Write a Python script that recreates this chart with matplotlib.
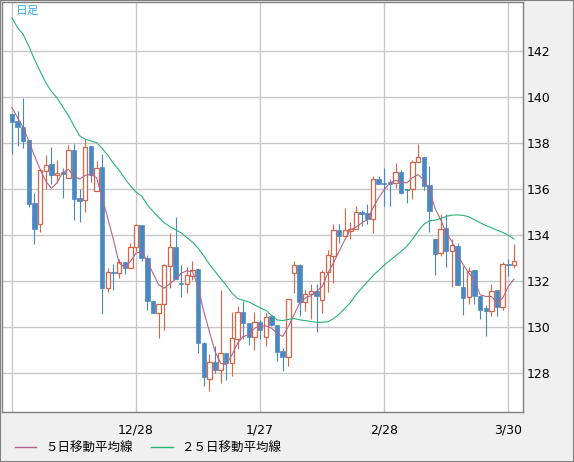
import matplotlib
matplotlib.use("Agg")
import matplotlib.pyplot as plt
from matplotlib.patches import Rectangle
from matplotlib.lines import Line2D

# daily OHLC, one entry per trading day
opens = [139.23, 138.94, 138.70, 138.10, 135.36, 134.48, 136.78, 137.06, 136.59, 136.71,
         136.45, 137.67, 135.58, 135.49, 137.86, 135.90, 136.94, 131.70, 132.39, 132.35,
         132.83, 132.57, 133.48, 134.43, 133.01, 131.14, 130.61, 131.00, 132.64, 133.45,
         131.90, 131.87, 132.20, 132.49, 129.30, 127.75, 128.48, 128.12, 128.87, 128.43,
         129.45, 130.65, 130.17, 129.57, 130.22, 129.57, 130.46, 130.10, 128.93, 128.70,
         132.35, 132.67, 131.07, 131.43, 131.55, 131.16, 132.38, 133.07, 134.19, 133.94,
         134.17, 134.23, 135.00, 134.93, 134.70, 136.41, 136.25, 136.24, 136.26, 136.74,
         136.00, 135.97, 137.17, 137.39, 136.14, 133.80, 133.19, 134.30, 133.30, 133.51,
         131.74, 131.28, 132.45, 131.36, 130.81, 130.67, 131.59, 130.84, 132.74, 132.68]
highs = [139.30, 139.38, 139.93, 138.10, 135.83, 136.87, 137.45, 137.83, 137.23, 136.88,
         137.90, 137.96, 135.97, 138.17, 137.86, 137.20, 137.49, 132.57, 132.71, 132.96,
         132.83, 133.65, 134.48, 134.43, 133.12, 131.14, 131.01, 132.71, 134.06, 134.75,
         132.67, 132.61, 132.88, 132.49, 129.36, 128.84, 129.16, 131.58, 128.87, 130.64,
         130.90, 131.12, 130.17, 130.64, 130.29, 130.61, 130.46, 130.10, 129.10, 131.19,
         132.88, 132.71, 131.62, 131.85, 131.84, 132.45, 133.32, 134.45, 134.48, 135.14,
         134.55, 135.25, 135.07, 135.35, 136.55, 136.55, 136.91, 136.41, 137.10, 136.81,
         136.00, 137.25, 137.93, 137.39, 136.99, 133.80, 134.88, 134.88, 133.80, 133.62,
         132.65, 132.61, 132.45, 131.36, 130.96, 131.86, 131.59, 132.82, 132.96, 133.61]
lows = [137.52, 137.86, 137.78, 135.20, 133.58, 134.13, 135.97, 136.19, 136.26, 135.61,
        136.45, 134.62, 134.55, 134.99, 136.29, 135.90, 130.54, 131.52, 131.62, 132.12,
        132.28, 132.57, 133.28, 132.88, 130.75, 130.61, 129.51, 129.88, 131.68, 132.06,
        131.30, 131.45, 132.03, 128.87, 127.42, 127.20, 128.00, 127.57, 127.71, 127.88,
        129.04, 129.45, 129.23, 129.01, 129.48, 129.16, 130.03, 128.51, 128.06, 128.29,
        131.45, 130.46, 130.68, 130.35, 129.77, 130.61, 131.51, 131.91, 133.65, 133.94,
        133.80, 134.23, 134.38, 134.48, 134.06, 136.19, 135.25, 135.25, 136.04, 135.75,
        135.36, 135.57, 137.17, 135.94, 134.12, 132.25, 133.09, 132.61, 131.72, 131.80,
        130.52, 131.01, 130.99, 130.36, 129.59, 130.45, 130.45, 130.74, 132.22, 132.57]
closes = [138.90, 138.68, 138.07, 135.32, 134.25, 136.80, 137.04, 136.59, 136.70, 136.64,
          137.67, 135.54, 135.46, 137.81, 136.59, 136.91, 131.67, 132.39, 132.33, 132.83,
          132.54, 133.48, 134.43, 133.00, 131.12, 130.61, 131.01, 132.67, 133.45, 132.06,
          131.86, 132.23, 132.48, 129.30, 127.83, 128.48, 128.12, 128.87, 128.41, 129.52,
          130.65, 130.17, 129.57, 130.20, 129.86, 130.43, 130.07, 128.90, 128.68, 131.19,
          132.67, 131.07, 131.43, 131.55, 131.36, 132.39, 133.10, 134.19, 133.94, 134.19,
          134.26, 135.00, 134.90, 134.67, 136.43, 136.19, 136.20, 136.22, 136.74, 135.83,
          135.94, 137.17, 137.39, 136.12, 135.03, 133.16, 134.23, 133.28, 133.54, 131.82,
          131.25, 132.42, 131.33, 130.75, 130.70, 131.57, 130.84, 132.74, 132.68, 132.86]

ma5 = [139.52, 139.09, 138.65, 138.07, 137.42, 136.84, 136.33, 136.01, 136.26, 136.70,
       136.84, 136.55, 136.41, 136.58, 136.62, 136.48, 135.61, 134.70, 133.78, 132.77,
       132.60, 132.84, 133.20, 133.27, 132.84, 132.33, 131.83, 131.68, 131.87, 132.07,
       132.33, 132.43, 132.40, 131.75, 130.67, 129.80, 128.93, 128.42, 128.35, 128.78,
       129.29, 129.58, 129.65, 129.94, 130.04, 130.04, 129.94, 129.72, 129.58, 130.01,
       130.52, 131.03, 131.25, 131.35, 131.54, 131.75, 132.33, 132.77, 133.27, 133.78,
       134.22, 134.33, 134.51, 134.65, 135.16, 135.60, 135.96, 136.25, 136.36, 136.28,
       136.25, 136.48, 136.61, 136.39, 135.96, 135.16, 134.65, 134.07, 133.71, 133.13,
       132.70, 132.33, 132.04, 131.39, 131.32, 131.32, 131.06, 131.25, 131.75, 132.07]
ma25 = [143.42, 142.99, 142.70, 142.19, 141.61, 141.10, 140.60, 140.23, 139.94, 139.56,
        139.18, 138.72, 138.30, 138.15, 138.07, 138.00, 137.75, 137.45, 137.10, 136.80,
        136.45, 136.12, 135.85, 135.68, 135.30, 135.02, 134.75, 134.52, 134.35, 134.22,
        134.08, 133.88, 133.68, 133.42, 133.08, 132.72, 132.41, 132.10, 131.80, 131.47,
        131.23, 131.15, 131.08, 130.95, 130.83, 130.72, 130.50, 130.30, 130.27, 130.32,
        130.36, 130.30, 130.27, 130.23, 130.20, 130.20, 130.22, 130.35, 130.55, 130.80,
        131.05, 131.40, 131.68, 131.95, 132.22, 132.45, 132.68, 132.88, 133.08, 133.27,
        133.50, 133.80, 134.15, 134.45, 134.60, 134.63, 134.70, 134.80, 134.85, 134.86,
        134.84, 134.78, 134.65, 134.52, 134.40, 134.30, 134.20, 134.10, 133.98, 133.82]

tick_pos = [0, 22, 44, 66, 88]
tick_labels = ["", "12/28", "1/27", "2/28", "3/30"]
y_ticks = [128, 130, 132, 134, 136, 138, 140, 142]

UP = "#dc6446"
DOWN = "#4a88c2"
MA5_C = "#b4648a"
MA25_C = "#28b478"
GRID = "#c8c8c8"
JP = ["Noto Sans CJK JP", "DejaVu Sans"]

W, H = 574, 462
fig = plt.figure(figsize=(W / 100, H / 100), dpi=100)
fig.patch.set_facecolor("#f0f0f0")
ax = fig.add_axes([1.5 / W, 1 - 412 / H, 521.5 / W, 410.5 / H])
ax.set_facecolor("white")

n = len(closes)
xs = list(range(n))
bw = 0.78
for i in xs:
    o, h, l, c = opens[i], highs[i], lows[i], closes[i]
    up = c > o
    col = UP if up else DOWN
    ax.vlines(i, l, h, color=col, lw=0.8, zorder=2)
    bot = min(o, c)
    hgt = max(abs(c - o), 0.05)
    if up:
        ax.bar(i, hgt, bottom=bot, width=bw, facecolor="white", edgecolor=col,
               linewidth=0.9, zorder=3)
    else:
        ax.bar(i, hgt, bottom=bot, width=bw, facecolor=col, edgecolor=col,
               linewidth=0.5, zorder=3)

ax.plot(xs, ma5, color=MA5_C, lw=0.8, zorder=4)
ax.plot(xs, ma25, color=MA25_C, lw=0.8, zorder=4)

ax.set_xlim(-1.85, 90.6)
ax.set_ylim(126.3, 144.13)
ax.set_xticks(tick_pos)
ax.set_xticklabels(tick_labels)
ax.set_yticks(y_ticks)
ax.yaxis.tick_right()
ax.tick_params(axis="both", length=0, labelsize=9, colors="black")
ax.tick_params(axis="x", pad=8)
ax.tick_params(axis="y", pad=3)
ax.grid(True, color=GRID, lw=1.0, zorder=0)
ax.set_axisbelow(True)
for s in ax.spines.values():
    s.set_color("#808080")
    s.set_linewidth(1.0)

fig.text(16 / W, 1 - 10 / H, "日足", color="#3cb4f0", fontsize=8.5,
         family=JP, va="center", ha="left")

handles = [Line2D([], [], color=MA5_C, lw=1.0), Line2D([], [], color=MA25_C, lw=1.0)]
fig.legend(handles, ["５日移動平均線", "２５日移動平均線"], loc="center left",
           bbox_to_anchor=(15 / W, 1 - 448 / H), ncol=2, frameon=False,
           prop={"family": JP, "size": 9}, handlelength=1.7, handletextpad=0.7,
           columnspacing=1.5, borderpad=0, borderaxespad=0)

fig.patches.append(Rectangle((0, 0), 1, 1, transform=fig.transFigure, fill=False,
                             edgecolor="#808080", lw=1.5))

fig.savefig("out.png", dpi=100, facecolor=fig.get_facecolor())
